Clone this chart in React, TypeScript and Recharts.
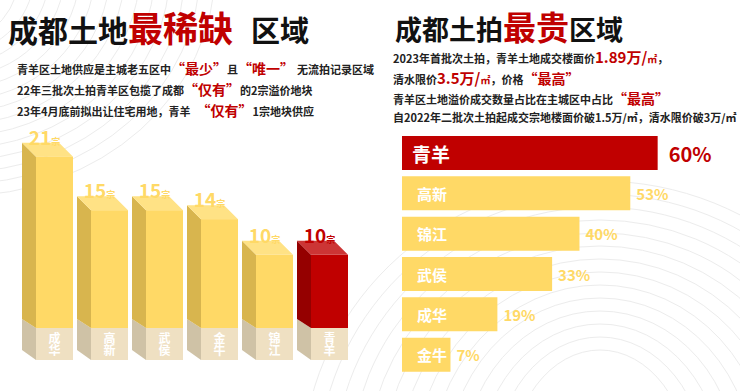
import React from 'react';
import { BarChart, Bar, XAxis, YAxis, LabelList, Cell } from 'recharts';

// ---- Data ----
const leftCategories = ['成华', '高新', '武侯', '金牛', '锦江', '青羊'];
const leftValues = [21, 15, 15, 14, 10, 10];
const leftUnit = '宗';

const rightCategories = ['青羊', '高新', '锦江', '武侯', '成华', '金牛'];
const rightValues = [60, 53, 40, 33, 19, 7];

const highlight = '青羊';

const leftData = leftCategories.map((name, i) => ({ name, value: leftValues[i] }));
const rightData = rightCategories.map((name, i) => ({ name, value: rightValues[i] }));

// ---- Styles ----
const FONT = '"Noto Sans CJK SC", "Noto Sans", sans-serif';
const RED = '#C00000';
const YEL = '#FFD966';
const X_MIN = -5.4;

const palette = {
  yellow: { front: '#FFD966', side: '#D8B54E', top: '#FFE285' },
  red: { front: '#C00000', side: '#950000', top: '#CC3535' },
  base: { front: '#EFE0C2', side: '#CFC2A6' },
};

const DX = 14;
const DY_TOP = 14;
const DY_BOT = 9;
const BASE_H = 32;

const Box3D = (props: any) => {
  const { x, y, width, height, payload } = props;
  const c = payload.name === highlight ? palette.red : palette.yellow;
  const b = y + height;
  const xl = x - DX;
  return (
    <g>
      <polygon
        points={`${xl},${b - DY_BOT} ${x},${b} ${x},${b + BASE_H} ${xl},${b + BASE_H - 10}`}
        fill={palette.base.side}
      />
      <rect x={x} y={b} width={width} height={BASE_H} fill={palette.base.front} />
      <polygon
        points={`${xl},${y - DY_TOP} ${x},${y} ${x},${b} ${xl},${b - DY_BOT}`}
        fill={c.side}
      />
      <polygon
        points={`${xl},${y - DY_TOP} ${xl + width},${y - DY_TOP} ${x + width},${y} ${x},${y}`}
        fill={c.top}
      />
      <rect x={x} y={y} width={width} height={height} fill={c.front} />
      <text
        x={x + width / 2}
        y={b + 4}
        writingMode="vertical-rl"
        style={{ textOrientation: 'upright' } as any}
        fontSize={12}
        fontWeight={700}
        fill="#fff"
        fontFamily={FONT}
      >
        {payload.name}
      </text>
    </g>
  );
};

const LeftValueLabel = (props: any) => {
  const { x, y, width, index } = props;
  const name = leftCategories[index];
  const col = name === highlight ? RED : YEL;
  return (
    <text
      x={x - DX + width / 2 + 4}
      y={y - DY_TOP + 2}
      textAnchor="middle"
      fontFamily={FONT}
      fontWeight={700}
      fill={col}
    >
      <tspan fontSize={19}>{leftValues[index]}</tspan>
      <tspan fontSize={9}>{leftUnit}</tspan>
    </text>
  );
};

const RightNameLabel = (props: any) => {
  const { x, y, height, index } = props;
  const name = rightCategories[index];
  const hi = name === highlight;
  return (
    <text
      x={x + (hi ? 10 : 15)}
      y={y + height / 2}
      dominantBaseline="central"
      fontFamily={FONT}
      fontWeight={700}
      fontSize={hi ? 19 : 15}
      fill="#fff"
    >
      {name}
    </text>
  );
};

const RightValueLabel = (props: any) => {
  const { x, y, width, height, index } = props;
  const name = rightCategories[index];
  const hi = name === highlight;
  return (
    <text
      x={x + width + (hi ? 11 : 6)}
      y={y + height / 2}
      dominantBaseline="central"
      fontFamily={FONT}
      fontWeight={700}
      fontSize={hi ? 20 : 15}
      fill={hi ? RED : YEL}
    >
      {rightValues[index]}%
    </text>
  );
};

const T = (p: any) => <tspan {...p} />;

const contours = Array.from({ length: 14 }, (_, i) => i);

const Background = () => (
  <svg width={740} height={391} style={{ position: 'absolute', left: 0, top: 0 }}>
    <g fill="none" stroke="#ececec" strokeWidth={1}>
      {contours.map((i) => (
        <ellipse key={`a${i}`} cx={600} cy={470} rx={90 + i * 16} ry={120 + i * 13} />
      ))}
      {contours.map((i) => (
        <ellipse key={`b${i}`} cx={-40} cy={-30} rx={60 + i * 15} ry={70 + i * 12} />
      ))}
    </g>
  </svg>
);

const Texts = () => (
  <svg width={740} height={391} style={{ position: 'absolute', left: 0, top: 0 }} fontFamily={FONT} fontWeight={700}>
    {/* Left title */}
    <text x={8} y={42} fill="#111">
      <T fontSize={30}>成都土地</T>
      <T fontSize={35} fill={RED}>最稀缺</T>
      <T fontSize={29} dx={18}>区域</T>
    </text>
    {/* Left lines */}
    <text x={17} y={74} fill="#222" fontSize={11}>
      <T>青羊区土地供应是主城老五区中</T>
      <T fontSize={14} fill={RED}>“最少”</T>
      <T>且</T>
      <T fontSize={14} fill={RED}>“唯一”</T>
      <T dx={3}>无流拍记录区域</T>
    </text>
    <text x={17} y={95} fill="#222" fontSize={11}>
      <T>22年三批次土拍青羊区包揽了成都</T>
      <T fontSize={14} fill={RED}>“仅有”</T>
      <T>的2宗溢价地块</T>
    </text>
    <text x={17} y={116} fill="#222" fontSize={11}>
      <T>23年4月底前拟出让住宅用地，青羊</T>
      <T fontSize={14} fill={RED} dx={6}>“仅有”</T>
      <T>1宗地块供应</T>
    </text>

    {/* Right title */}
    <text x={395} y={40} fill="#111">
      <T fontSize={27}>成都土拍</T>
      <T fontSize={33} fill={RED}>最贵</T>
      <T fontSize={27}>区域</T>
    </text>
    <text x={393} y={63} fill="#222" fontSize={11}>
      <T>2023年首批次土拍，青羊土地成交楼面价</T>
      <T fontSize={15} fill={RED}>1.89万/</T>
      <T fontSize={10} fill={RED}>㎡</T>
      <T>，</T>
    </text>
    <text x={393} y={84} fill="#222" fontSize={11}>
      <T>清水限价</T>
      <T fontSize={15} fill={RED}>3.5万/</T>
      <T fontSize={10} fill={RED}>㎡</T>
      <T>，价格</T>
      <T fontSize={14} fill={RED}>“最高”</T>
    </text>
    <text x={393} y={104} fill="#222" fontSize={11}>
      <T>青羊区土地溢价成交数量占比在主城区中占比</T>
      <T fontSize={14} fill={RED}>“最高”</T>
    </text>
    <text x={393} y={122} fill="#222" fontSize={11}>
      <T>自2022年二批次土拍起成交宗地楼面价破1.5万/㎡，清水限价破3万/㎡</T>
    </text>
  </svg>
);

export default function App() {
  return (
    <div
      style={{
        position: 'absolute',
        left: 0,
        top: 0,
        width: 740,
        height: 391,
        background: '#fff',
        overflow: 'hidden',
        fontFamily: FONT,
      }}
    >
      <Background />
      <Texts />
      <div style={{ position: 'absolute', left: 0, top: 0 }}>
        <BarChart width={370} height={391} data={leftData} margin={{ top: 121, right: 13, bottom: 63, left: 27 }}>
          <XAxis dataKey="name" hide />
          <YAxis hide domain={[1.8, 25]} />
          <Bar dataKey="value" barSize={37} shape={<Box3D />} isAnimationActive={false}>
            <LabelList dataKey="value" content={<LeftValueLabel />} />
          </Bar>
        </BarChart>
      </div>
      <div style={{ position: 'absolute', left: 370, top: 0 }}>
        <BarChart
          layout="vertical"
          width={370}
          height={391}
          data={rightData}
          margin={{ top: 133, right: 28, bottom: 16, left: 32 }}
        >
          <XAxis type="number" hide domain={[X_MIN, 73.9]} />
          <YAxis type="category" dataKey="name" hide />
          <Bar dataKey={(d: any) => [X_MIN, d.value]} barSize={34} isAnimationActive={false}>
            {rightData.map((d) => (
              <Cell key={d.name} fill={d.name === highlight ? RED : YEL} />
            ))}
            <LabelList content={<RightNameLabel />} />
            <LabelList content={<RightValueLabel />} />
          </Bar>
        </BarChart>
      </div>
    </div>
  );
}
